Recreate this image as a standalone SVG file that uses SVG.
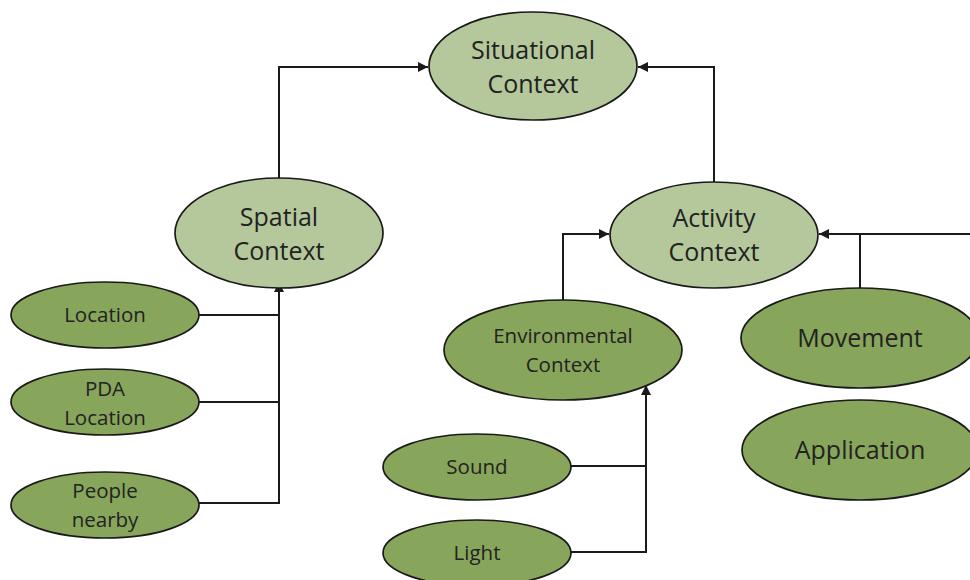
<svg xmlns="http://www.w3.org/2000/svg" width="970" height="580" viewBox="0 0 970 580">
  <style>
    .light { fill: #b5c89b; stroke: #1a1a1a; stroke-width: 1.7; }
    .dark { fill: #87a55b; stroke: #1a1a1a; stroke-width: 1.7; }
    text { font-family: "Open Sans", "Liberation Sans", sans-serif; fill: #222222; text-anchor: middle; }
    .big { font-size: 25px; }
    .small { font-size: 20.5px; }
    .wire { fill: none; stroke: #1a1a1a; stroke-width: 2; }
  </style>
  <defs>
    <marker id="arrow" viewBox="0 0 10 10" refX="10" refY="5" markerWidth="5" markerHeight="5" orient="auto" markerUnits="strokeWidth">
      <path d="M0,0 L10,5 L0,10 z" fill="#1a1a1a"/>
    </marker>
  </defs>
  <rect width="970" height="580" fill="#ffffff"/>

  <g id="connectors">
    <path class="wire" d="M279,178 V67 H428" marker-end="url(#arrow)"/>
    <path class="wire" d="M714,182 V67 H638" marker-end="url(#arrow)"/>
    <path class="wire" d="M198,315 H279"/>
    <path class="wire" d="M198,402 H279"/>
    <path class="wire" d="M198,503 H279 V282" marker-end="url(#arrow)"/>
    <path class="wire" d="M563,300 V234 H609" marker-end="url(#arrow)"/>
    <path class="wire" d="M970,234 H819" marker-end="url(#arrow)"/>
    <path class="wire" d="M860,288 V234"/>
    <path class="wire" d="M571,466 H646"/>
    <path class="wire" d="M571,552 H646 V385" marker-end="url(#arrow)"/>
  </g>

  <g id="situational">
    <ellipse class="light" cx="533" cy="66" rx="104" ry="54"/>
    <text class="big" x="533" y="59">Situational</text>
    <text class="big" x="533" y="93">Context</text>
  </g>
  <g id="spatial">
    <ellipse class="light" cx="279" cy="233" rx="104" ry="55"/>
    <text class="big" x="279" y="226">Spatial</text>
    <text class="big" x="279" y="260">Context</text>
  </g>
  <g id="activity">
    <ellipse class="light" cx="714" cy="235" rx="104" ry="53"/>
    <text class="big" x="714" y="227">Activity</text>
    <text class="big" x="714" y="261">Context</text>
  </g>
  <g id="location">
    <ellipse class="dark" cx="105" cy="315" rx="94" ry="33"/>
    <text class="small" x="105" y="322">Location</text>
  </g>
  <g id="pda-location">
    <ellipse class="dark" cx="105" cy="402" rx="94" ry="33"/>
    <text class="small" x="105" y="396">PDA</text>
    <text class="small" x="105" y="425">Location</text>
  </g>
  <g id="people-nearby">
    <ellipse class="dark" cx="105" cy="505" rx="94" ry="33"/>
    <text class="small" x="105" y="498">People</text>
    <text class="small" x="105" y="527">nearby</text>
  </g>
  <g id="environmental">
    <ellipse class="dark" cx="563" cy="350" rx="119" ry="50"/>
    <text class="small" x="563" y="343">Environmental</text>
    <text class="small" x="563" y="372">Context</text>
  </g>
  <g id="movement">
    <ellipse class="dark" cx="860" cy="338" rx="119" ry="50"/>
    <text class="big" x="860" y="347">Movement</text>
  </g>
  <g id="application">
    <ellipse class="dark" cx="860" cy="450" rx="118" ry="50"/>
    <text class="big" x="860" y="459">Application</text>
  </g>
  <g id="sound">
    <ellipse class="dark" cx="477" cy="467" rx="94" ry="33"/>
    <text class="small" x="477" y="474">Sound</text>
  </g>
  <g id="light">
    <ellipse class="dark" cx="477" cy="553" rx="94" ry="33"/>
    <text class="small" x="477" y="560">Light</text>
  </g>
</svg>
